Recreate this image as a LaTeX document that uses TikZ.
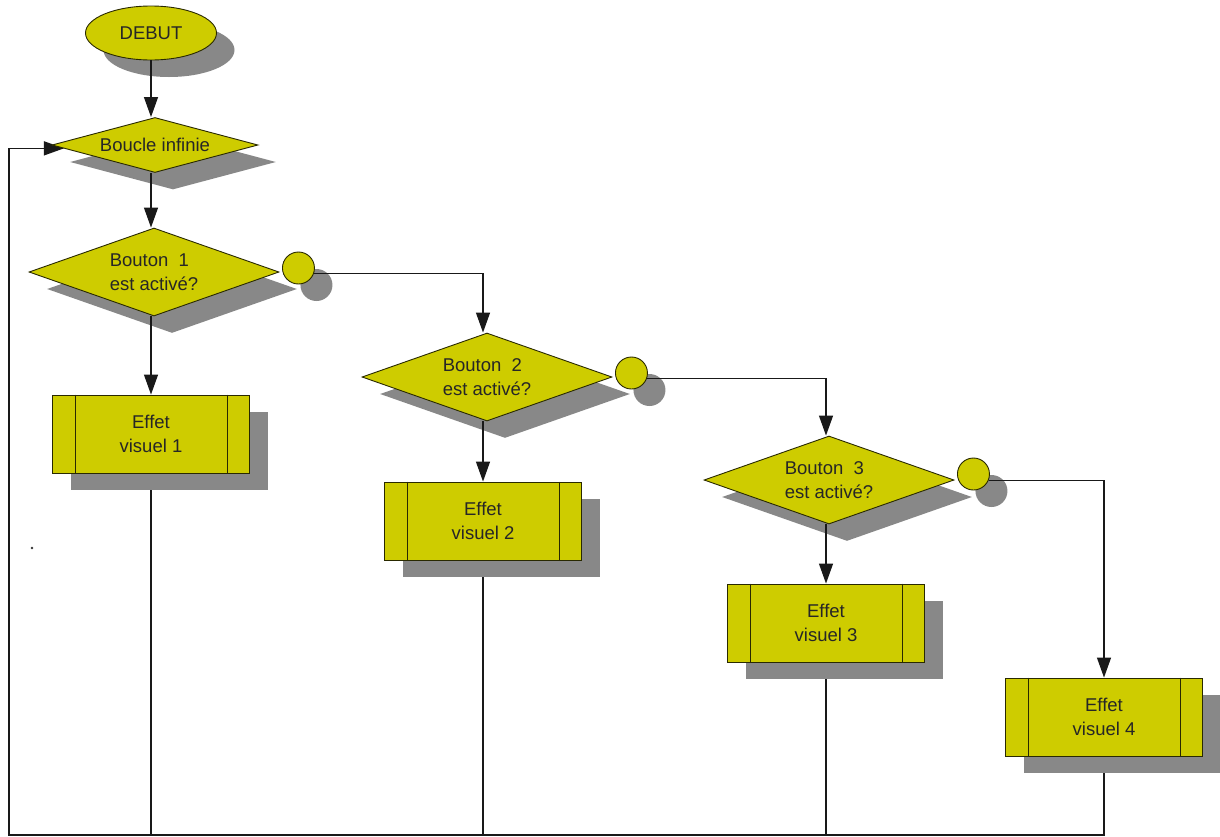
\documentclass[tikz,border=0pt]{standalone}
\usepackage{fontspec}
\setmainfont{Liberation Sans}
\usetikzlibrary{shapes.geometric,arrows.meta,shadows,calc}
\definecolor{fillY}{RGB}{206,204,0}
\definecolor{shgray}{RGB}{136,136,136}
\definecolor{linec}{RGB}{25,25,25}
\pgfdeclarelayer{back}
\pgfsetlayers{back,main}
\tikzset{
  base/.style={fill=fillY, draw=black!80!fillY, line width=0.9pt, text=black!85,
    font=\fontsize{18.5}{24}\selectfont, inner sep=0pt},
  shad/.style={general shadow={shadow xshift=18pt, shadow yshift=-17pt, fill=shgray, draw=none}},
  startnode/.style={base, shad, ellipse, minimum width=131pt, minimum height=54pt},
  loopdec/.style={base, shad, diamond, aspect=3.75, minimum width=206pt, minimum height=55pt},
  decision/.style={base, shad, diamond, aspect=2.84, minimum width=250pt, minimum height=88pt, align=left},
  knob/.style={base, shad, circle, minimum size=32pt},
  process/.style={base, shad, rectangle, minimum width=197pt, minimum height=78pt, align=center},
  innerline/.style={draw=black!80!fillY, line width=0.9pt},
  conn/.style={draw=linec, line width=1.3pt},
  arr/.style={conn, -{Triangle[length=20pt,width=14pt]}},
}
\begin{document}
\begin{tikzpicture}[x=1pt,y=-1pt]
\useasboundingbox (0,0) rectangle (1220,836);
% nodes
\node[startnode] (start) at (151,33) {DEBUT};
\node[loopdec] (d0) at (155,145) {Boucle infinie};
\node[decision] (d1) at (154,272) {Bouton\ \ 1\\est activé?};
\node[knob] (c1) at ($(d1.east)+(19,-4)$) {};
\node[decision] (d2) at (487,377) {Bouton\ \ 2\\est activé?};
\node[knob] (c2) at ($(d2.east)+(19,-4)$) {};
\node[decision] (d3) at (829,480) {Bouton\ \ 3\\est activé?};
\node[knob] (c3) at ($(d3.east)+(19,-6)$) {};
\node[process] (e1) at (151,434) {Effet\\visuel 1};
\node[process] (e2) at (483,521) {Effet\\visuel 2};
\node[process] (e3) at (826,623) {Effet\\visuel 3};
\node[process] (e4) at (1104,717) {Effet\\visuel\ 4};
\foreach \b in {e1,e2,e3,e4}{
  \draw[innerline] ([xshift=23pt]\b.north west) -- ([xshift=23pt]\b.south west)
                   ([xshift=-23pt]\b.north east) -- ([xshift=-23pt]\b.south east);
}
\coordinate (bl) at (9,835);
\coordinate (d0in) at ($(d0.west)!0.12!(d0.south)$);
% connectors behind the shapes
\begin{pgfonlayer}{back}
  \draw[conn] (e1.south) -- (e1.south |- bl);
  \draw[conn] (e2.south) -- (e2.south |- bl);
  \draw[conn] (e3.south) -- (e3.south |- bl);
  \draw[arr] (e4.south) |- (bl) |- (d0in);
\end{pgfonlayer}
% connectors in front
\draw[arr] (start.south) -- (start.south |- d0.north);
\draw[arr] (d0.south -| start.south) -- (d1.north -| start.south);
\draw[arr] (d1.south -| e1.north) -- (e1.north);
\draw[arr] (c1.-20) -| (d2.north -| e2.north);
\draw[arr] (d2.south -| e2.north) -- (e2.north);
\draw[arr] (c2.-20) -| (d3.north -| e3.north);
\draw[arr] (d3.south -| e3.north) -- (e3.north);
\draw[arr] (c3.-22) -| (e4.north);
% stray dot
\fill[black!80] (32,548) circle (1.3pt);
\end{tikzpicture}
\end{document}
